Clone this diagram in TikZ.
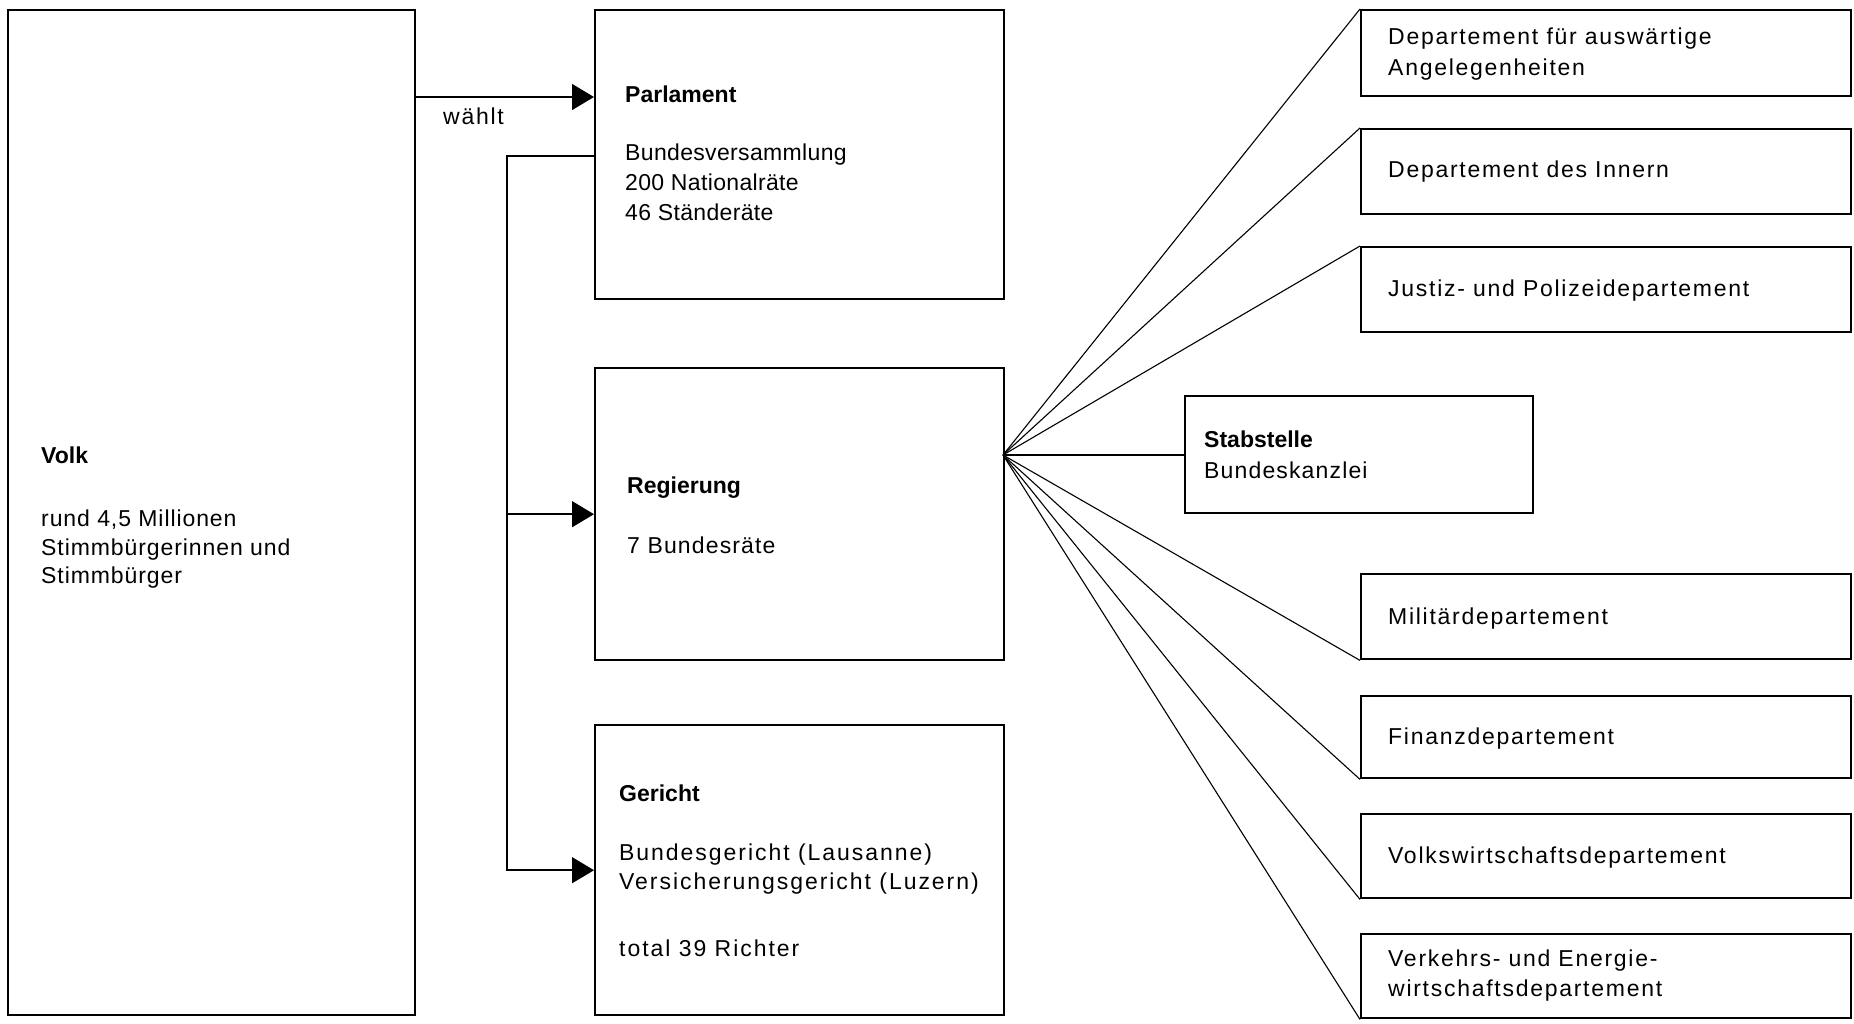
\documentclass[tikz,border=0pt]{standalone}
\usepackage{fontspec}
\setmainfont{Liberation Sans}
\newfontfamily\lsParl{Liberation Sans}[LetterSpace=1.5]
\newfontfamily\lsVolk{Liberation Sans}[LetterSpace=4]
\newfontfamily\lsReg{Liberation Sans}[LetterSpace=5]
\newfontfamily\lsGer{Liberation Sans}[LetterSpace=8.5]
\newfontfamily\lsDept{Liberation Sans}[LetterSpace=7.5]
\usetikzlibrary{arrows.meta}
\begin{document}
\begin{tikzpicture}[x=1pt,y=-1pt,
 box/.style={draw, line width=2.4pt, rectangle, inner sep=0pt, anchor=north west},
 txt/.style={anchor=base west, inner sep=0pt, font=\fontsize{23}{30}\selectfont#1},
 ttl/.style={anchor=base west, inner sep=0pt, font=\fontsize{23}{30}\selectfont\bfseries},
 conn/.style={line width=1.5pt},
 arr/.style={conn, -{Triangle[length=22pt,width=26pt]}},
 fan/.style={line width=1.1pt}]
\useasboundingbox (0,0) rectangle (1854,1024);
% boxes
\node[box, minimum width=407pt, minimum height=1005pt] (volk) at (7,9) {};
\node[box, minimum width=409pt, minimum height=289pt] (parl) at (594,9) {};
\node[box, minimum width=409pt, minimum height=292pt] (reg) at (594,367) {};
\node[box, minimum width=409pt, minimum height=290pt] (ger) at (594,724) {};
\node[box, minimum width=490pt, minimum height=86pt] (d1) at (1360,9) {};
\node[box, minimum width=490pt, minimum height=85pt] (d2) at (1360,128) {};
\node[box, minimum width=490pt, minimum height=85pt] (d3) at (1360,246) {};
\node[box, minimum width=348pt, minimum height=117pt] (stab) at (1184,395) {};
\node[box, minimum width=490pt, minimum height=85pt] (d4) at (1360,573) {};
\node[box, minimum width=490pt, minimum height=82pt] (d5) at (1360,695) {};
\node[box, minimum width=490pt, minimum height=84pt] (d6) at (1360,813) {};
\node[box, minimum width=490pt, minimum height=84pt] (d7) at (1360,933) {};
% texts
\node[ttl] (tvolk) at (41,463) {Volk};
\node[txt=\lsVolk] (tvolk1) at (41,526) {rund 4,5 Millionen};
\node[txt=\lsVolk] (tvolk2) at (41,555) {Stimmbürgerinnen und};
\node[txt=\lsVolk] (tvolk3) at (41,583) {Stimmbürger};
\node[ttl] (tparl) at (625,103) {Parlament};
\node[txt=\lsParl] (tparl1) at (625,161) {Bundesversammlung};
\node[txt=\lsParl] (tparl2) at (625,191) {200 Nationalräte};
\node[txt=\lsParl] (tparl3) at (625,221) {46 Ständeräte};
\node[ttl] (treg) at (627,493) {Regierung};
\node[txt=\lsReg] (treg1) at (627,553) {7 Bundesräte};
\node[ttl] (tger) at (619,801) {Gericht};
\node[txt=\lsGer] (tger1) at (619,860) {Bundesgericht (Lausanne)};
\node[txt=\lsGer] (tger2) at (619,889) {Versicherungsgericht (Luzern)};
\node[txt=\lsGer] (tger3) at (619,956) {total 39 Richter};
\node[txt=\lsDept] (wahl) at (443,125) {wählt};
\node[txt=\lsDept] (td1a) at (1388,45) {Departement für auswärtige};
\node[txt=\lsDept] (td1b) at (1388,76) {Angelegenheiten};
\node[txt=\lsDept] (td2) at (1388,178) {Departement des Innern};
\node[txt=\lsDept] (td3) at (1388,296) {Justiz- und Polizeidepartement};
\node[ttl] (tstab) at (1204,447) {Stabstelle};
\node[txt=\lsReg] (tstab1) at (1204,478) {Bundeskanzlei};
\node[txt=\lsDept] (td4) at (1388,624) {Militärdepartement};
\node[txt=\lsDept] (td5) at (1388,744) {Finanzdepartement};
\node[txt=\lsDept] (td6) at (1388,863) {Volkswirtschaftsdepartement};
\node[txt=\lsDept] (td7a) at (1388,966) {Verkehrs- und Energie-};
\node[txt=\lsDept] (td7b) at (1388,996) {wirtschaftsdepartement};
% connectors
\coordinate (pin) at (594,97);
\coordinate (bout) at (594,156);
\coordinate (bus) at (507,156);
\draw[arr] (volk.east |- pin) -- (parl.west |- pin);
\draw[arr] (parl.west |- bout) -- (bus) |- (ger.west);
\draw[arr] (bus |- reg.west) -- (reg.west);
% fan
\coordinate (hub) at (1003,455);
\draw[fan] (hub) -- (d1.north west);
\draw[fan] (hub) -- (d2.north west);
\draw[fan] (hub) -- (d3.north west);
\draw[fan] (hub) -- (stab.west |- hub);
\draw[fan] (hub) -- (d4.south west);
\draw[fan] (hub) -- (d5.south west);
\draw[fan] (hub) -- (d6.south west);
\draw[fan] (hub) -- (d7.south west);
\end{tikzpicture}
\end{document}
